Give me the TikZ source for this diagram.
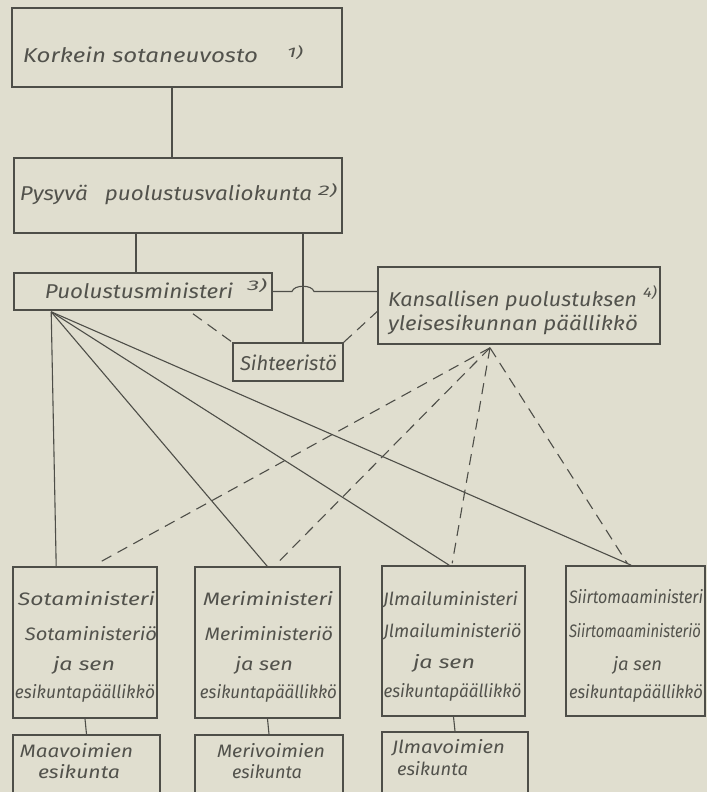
\documentclass[tikz,border=0pt]{standalone}
\usepackage{fontspec}
\usepackage{graphicx}
\setmainfont{Fira Sans}
\usetikzlibrary{calc}
\definecolor{paper}{RGB}{224,222,207}
\definecolor{ink}{RGB}{78,78,72}
\definecolor{txtink}{RGB}{82,82,76}
\newcommand{\fitw}[2]{\resizebox{#1}{\height}{#2}}
\tikzset{
  box/.style={draw=ink, line width=1.6pt, inner sep=0pt, rectangle},
  link/.style={draw=ink, line width=1.1pt},
  dlink/.style={draw=ink, line width=1.1pt, dash pattern=on 11pt off 7pt},
  txt/.style={anchor=base, inner sep=0pt, text=txtink, font=\fontsize{20}{22}\selectfont\itshape},
  stxt/.style={anchor=base, inner sep=0pt, text=txtink, font=\fontsize{18}{20}\selectfont\itshape},
  sup/.style={anchor=base, inner sep=0pt, text=txtink, font=\fontsize{14}{16}\selectfont\itshape},
}
\begin{document}
\begin{tikzpicture}[x=1pt,y=-1pt]
\fill[paper] (0,0) rectangle (707,792);
\useasboundingbox (0,0) rectangle (707,792);
\begin{scope}
\clip (0,0) rectangle (707,792);
% boxes
\node[box, minimum width=330pt, minimum height=79pt] (k1) at (177,47.5) {};
\node[box, minimum width=328pt, minimum height=75pt] (k2) at (178,195.5) {};
\node[box, minimum width=258pt, minimum height=37pt] (pm) at (143,291.5) {};
\node[box, minimum width=282pt, minimum height=77pt] (ky) at (519,305.5) {};
\node[box, minimum width=110pt, minimum height=38pt] (si) at (288,362) {};
\node[box, minimum width=144pt, minimum height=151pt] (sm) at (85,642.5) {};
\node[box, minimum width=145pt, minimum height=151pt] (mm) at (267.5,642.5) {};
\node[box, minimum width=143pt, minimum height=150pt] (im) at (453.5,641) {};
\node[box, minimum width=139pt, minimum height=150pt] (st) at (635.5,641) {};
\node[box, minimum width=147pt, minimum height=65pt] (mv) at (86.5,767.5) {};
\node[box, minimum width=148pt, minimum height=65pt] (me) at (269,767.5) {};
\node[box, minimum width=146pt, minimum height=68pt] (ia) at (455,766) {};

% texts
\node[txt] (t1) at (140.5,63) {\fitw{235pt}{Korkein sotaneuvosto}};
\node[sup] (n1) at (295,58) {\fitw{16pt}{1)}};
\node[txt] (t2) at (166,200) {\fitw{292pt}{Pysyvä\hspace{0.5em} puolustusvaliokunta}};
\node[sup] (n2) at (327.5,195) {\fitw{19pt}{2)}};
\node[txt] (t3) at (139,298) {\fitw{188pt}{Puolustusministeri}};
\node[sup] (n3) at (257,290) {\fitw{20pt}{3)}};
\node[txt] (t4a) at (512.5,306) {\fitw{249pt}{Kansallisen puolustuksen}};
\node[sup] (n4) at (650,297) {\fitw{14pt}{4)}};
\node[txt] (t4b) at (513,330) {\fitw{250pt}{yleisesikunnan päällikkö}};
\node[txt] (t5) at (288.5,370) {\fitw{97pt}{Sihteeristö}};

\node[stxt] (a1) at (86.5,605) {\fitw{137pt}{Sotaministeri}};
\node[stxt] (a2) at (91,640) {\fitw{132pt}{Sotaministeriö}};
\node[stxt] (a3) at (84,670) {\fitw{62pt}{ja sen}};
\node[stxt] (a4) at (85,698) {\fitw{140pt}{esikuntapäällikkö}};

\node[stxt] (b1) at (268,605) {\fitw{130pt}{Meriministeri}};
\node[stxt] (b2) at (269,640) {\fitw{128pt}{Meriministeriö}};
\node[stxt] (b3) at (264,670) {\fitw{58pt}{ja sen}};
\node[stxt] (b4) at (268.5,698) {\fitw{137pt}{esikuntapäällikkö}};

\node[stxt] (c1) at (450.5,605) {\fitw{135pt}{Jlmailuministeri}};
\node[stxt] (c2) at (452.5,637) {\fitw{138pt}{Jlmailuministeriö}};
\node[stxt] (c3) at (444,668) {\fitw{62pt}{ja sen}};
\node[stxt] (c4) at (452.5,697) {\fitw{138pt}{esikuntapäällikkö}};

\node[stxt] (d1) at (636,603) {\fitw{134pt}{Siirtomaaministeri}};
\node[stxt] (d2) at (635,637) {\fitw{132pt}{Siirtomaaministeriö}};
\node[stxt] (d3) at (637.5,670) {\fitw{49pt}{ja sen}};
\node[stxt] (d4) at (636,698) {\fitw{134pt}{esikuntapäällikkö}};

\node[stxt] (e1) at (76.5,757) {\fitw{113pt}{Maavoimien}};
\node[stxt] (e2) at (79,778) {\fitw{82pt}{esikunta}};
\node[stxt] (f1) at (271,757) {\fitw{108pt}{Merivoimien}};
\node[stxt] (f2) at (267,778) {\fitw{70pt}{esikunta}};
\node[stxt] (g1) at (448.5,753) {\fitw{113pt}{Jlmavoimien}};
\node[stxt] (g2) at (432.5,775) {\fitw{71pt}{esikunta}};

% solid connectors
\draw[link] ([xshift=-5pt]k1.south) -- ([xshift=-6pt]k2.north);
\draw[link] ([xshift=-7pt]pm.north) -- ([xshift=-7pt]pm.north |- k2.south);
\draw[link] ([xshift=15pt]si.north) -- ([xshift=15pt]si.north |- k2.south);
\coordinate (j) at ([xshift=15pt]si.north |- pm.east);
\draw[link] (pm.east) -- ([xshift=-11pt]j)
  .. controls ([xshift=-9pt,yshift=7pt]j) and ([xshift=9pt,yshift=7pt]j) .. ([xshift=11pt]j)
  -- (ky.west |- j);
\coordinate (pf) at ([xshift=38pt,yshift=-1pt]pm.south west);
\draw[link] (pf) -- ([xshift=44pt]sm.north west);
\draw[link] (pf) -- ([xshift=73pt]mm.north west);
\draw[link] (pf) -- ([xshift=68pt]im.north west);
\draw[link] (pf) -- ([xshift=66pt]st.north west);
\draw[link] (sm.south) -- (mv.north);
\draw[link] (mm.south) -- (me.north);
\draw[link] (im.south) -- (ia.north);

% dashed connectors
\draw[dlink] ([xshift=50pt,yshift=-3pt]pm.south) -- (si.north west);
\draw[dlink] (si.north east) -- ([yshift=-6pt]ky.west);
\coordinate (kf) at ([xshift=-29pt,yshift=-3pt]ky.south);
\draw[dlink] (kf) -- ([xshift=84pt,yshift=2pt]sm.north west);
\draw[dlink] (kf) -- ([xshift=82pt,yshift=2pt]mm.north west);
\draw[dlink] (kf) -- ([xshift=71pt,yshift=2pt]im.north west);
\draw[dlink] (kf) -- ([xshift=62pt,yshift=2pt]st.north west);
\end{scope}
\end{tikzpicture}
\end{document}
